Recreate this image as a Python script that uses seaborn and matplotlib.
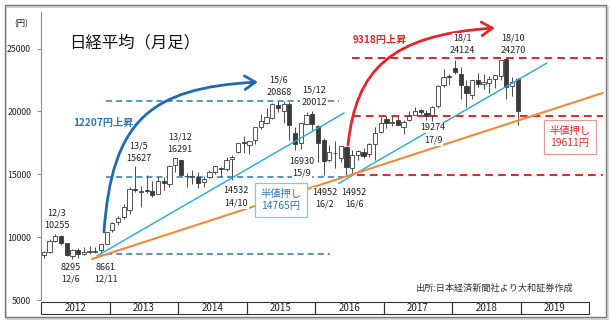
import numpy as np
import pandas as pd
import matplotlib
matplotlib.use("Agg")
import matplotlib.pyplot as plt
from matplotlib.patches import Rectangle, FancyArrowPatch
from matplotlib.path import Path
import seaborn as sns

# ---------------------------------------------------------------------------
# Nikkei 225 monthly candles, Jan 2012 - Dec 2018
# ---------------------------------------------------------------------------
years = [2012, 2013, 2014, 2015, 2016, 2017, 2018, 2019]

opens = [
    8549, 8795, 9707, 10110, 9549, 8520, 8999, 8697, 8790, 8824, 8946, 9451,
    10604, 11192, 11604, 12136, 13801, 13577, 13780, 13637, 13456, 14440, 14202, 15700,
    16148, 14900, 14800, 14800, 14400, 14800, 15200, 15500, 15400, 16200, 16800, 17600,
    17325, 17700, 18800, 19100, 19500, 20500, 20000, 20600, 18300, 17500, 19000, 19800,
    18818, 17700, 16100, 16700, 16300, 17200, 15500, 16500, 16800, 16600, 17400, 18400,
    19400, 19100, 19300, 18800, 19300, 19700, 20100, 19900, 19700, 20400, 22100, 22800,
    23450, 23000, 22000, 21300, 22500, 22200, 22300, 22600, 22800, 24200, 22000, 22574,
]
highs = [
    8929, 9866, 10255, 10190, 9559, 9064, 9136, 9222, 9288, 9180, 9460, 10433,
    11190, 11662, 12650, 13964, 15627, 14029, 14953, 14466, 14817, 14799, 15727, 16291,
    16164, 15095, 15312, 15164, 14830, 15376, 15660, 15600, 16374, 16533, 17520, 18030,
    17650, 18800, 19778, 20252, 20655, 20868, 20800, 20720, 18800, 19100, 19937, 20012,
    18951, 17905, 17291, 17613, 17251, 17240, 16938, 16943, 17100, 17500, 18800, 19592,
    19615, 19668, 19668, 19300, 19998, 20318, 20200, 20100, 20400, 22100, 23382, 23000,
    24124, 23500, 22500, 22500, 23050, 23000, 22800, 22900, 24120, 24270, 22700, 22698,
]
lows = [
    8349, 8765, 9650, 9388, 8501, 8295, 8365, 8595, 8674, 8700, 8661, 9433,
    10398, 10999, 11456, 11805, 13556, 12415, 13519, 13188, 13445, 13748, 14015, 15149,
    14844, 13995, 14203, 13885, 13964, 14738, 15000, 14753, 15300, 14532, 16720, 16672,
    16592, 17400, 18600, 19034, 19376, 19990, 19115, 17714, 16930, 17050, 18996, 18562,
    16017, 14952, 15999, 15471, 15975, 14952, 15095, 16100, 16300, 16400, 16111, 18300,
    18650, 18805, 18909, 18224, 19252, 19700, 19800, 19280, 19274, 20300, 21972, 22100,
    23000, 20950, 20347, 21000, 21931, 21800, 21500, 21851, 22500, 20971, 21200, 18948,
]
closes = [
    8802, 9723, 10083, 9520, 8542, 9006, 8695, 8839, 8870, 8928, 9446, 10395,
    11138, 11559, 12397, 13860, 13774, 13677, 13668, 13389, 14455, 14327, 15661, 16291,
    14915, 14841, 14828, 14304, 14632, 15162, 15621, 15425, 16173, 16414, 17460, 17451,
    17674, 18798, 19207, 19520, 20563, 20236, 20585, 18890, 17388, 19083, 19747, 19034,
    17518, 16026, 16759, 16666, 17234, 15575, 16569, 16887, 16449, 17425, 18308, 19114,
    19041, 19119, 18909, 19197, 19651, 20033, 19925, 19646, 20356, 22012, 22725, 22765,
    23098, 22068, 21454, 22468, 22202, 22305, 22554, 22865, 24120, 21920, 22351, 20014,
]

# Marked highs / lows (date label, price, label centre month, top-line level, kind)
note_dates = ["12/3", "12/6", "12/11", "13/5", "13/12", "14/10", "15/6",
              "15/9", "15/12", "16/2", "16/6", "17/9", "18/1", "18/10"]
note_prices = [10255, 8295, 8661, 15627, 16291, 14532, 20868,
               16930, 20012, 14952, 14952, 19274, 24124, 24270]
note_kind = ["top", "low", "low", "top", "top", "low", "top",
             "low", "top", "low", "low", "low", "top", "top"]
note_x = [2.8, 5.25, 11.38, 17.16, 24.34, 34.15, 41.68,
          45.71, 47.81, 49.74, 54.82, 68.65, 73.73, 82.66]
note_y = [11921, 7625, 7625, 17251, 17967, 13671, 22501,
          16057, 21706, 13591, 13591, 18683, 25842, 25842]

# Reference levels: 2012-2015 rally (blue) and 2016-2018 rally (red)
blue_levels = [20868, 14765, 8661]
blue_from = [11.4, 11.4, 11.4]
blue_to = [52.2, 53.8, 50.6]
red_levels = [24270, 19611, 14952]
red_from = [54.5, 54.6, 55.3]
red_to = [98.4, 98.4, 98.4]

# Trend lines (start / end month and price)
trend_names = ["support 2012-15", "support 2016-18", "long-term"]
trend_months = [[9.8, 53.1], [52.1, 88.6], [8.9, 98.4]]
trend_values = [[8500, 19880], [14270, 23850], [8260, 21470]]

rise_1 = 12207
rise_2 = 9318
half_1 = 14765
half_2 = 19611

# ---------------------------------------------------------------------------
sns.set_theme(style="white")
plt.rcParams["font.family"] = ["Noto Sans CJK JP", "DejaVu Sans"]

W, H = 610, 325
fig = plt.figure(figsize=(W / 100, H / 100), dpi=100)
fig.patch.set_facecolor("white")
ax = fig.add_axes([41 / W, 25 / H, (604 - 41) / W, (300 - 12) / H])
ax.set_facecolor("white")
ax.set_xlim(0, 98.6)
ax.set_ylim(5000, 27910)

BLUE = "#2f74b5"
BLUE_ARROW = "#1f6ab0"
CYAN = "#22a8dc"
ORANGE = "#f08a3a"
RED = "#e3262a"

# --- candles
o = np.array(opens, float)
c = np.array(closes, float)
hi = np.array(highs, float)
lo = np.array(lows, float)
m = np.arange(len(c)) + 0.5
up = c >= o
body_lo = np.minimum(o, c)
body_h = np.maximum(np.abs(c - o), 45)
ax.vlines(m, lo, hi, color="#4a4a4a", lw=0.7, zorder=2)
ax.bar(m, body_h, bottom=body_lo, width=0.74,
       color=np.where(up, "white", "#3a3a3a"), edgecolor="#3a3a3a",
       linewidth=0.6, zorder=3)

# --- horizontal reference levels
ax.hlines(blue_levels, blue_from, blue_to, colors=BLUE, lw=1.1,
          linestyles=(0, (4, 2.6)), zorder=1.5)
ax.hlines(red_levels, red_from, red_to, colors=RED, lw=1.4,
          linestyles=(0, (4, 2.6)), zorder=1.5)

# --- trend lines
trend_df = pd.DataFrame({
    "month": [v for pair in trend_months for v in pair],
    "value": [v for pair in trend_values for v in pair],
    "line": [n for n in trend_names for _ in range(2)],
})
trend_style = {"support 2012-15": (CYAN, 1.0), "support 2016-18": (CYAN, 1.0),
               "long-term": (ORANGE, 1.5)}
for name, grp in trend_df.groupby("line", sort=False):
    col, lw = trend_style[name]
    sns.lineplot(data=grp, x="month", y="value", color=col, lw=lw,
                 ax=ax, legend=False, sort=False, zorder=4)

# --- curved rally arrows
def rally_arrow(pts, color):
    path = Path(pts, [Path.MOVETO, Path.CURVE4, Path.CURVE4, Path.CURVE4])
    arr = FancyArrowPatch(path=path, arrowstyle="->,head_length=0.55,head_width=0.35",
                          mutation_scale=14, color=color, lw=2.0, zorder=6,
                          capstyle="round")
    ax.add_patch(arr)

rally_arrow([(11.03, 10410), (12.43, 19320), (19.09, 21866), (38.0, 22343)], BLUE_ARROW)
rally_arrow([(53.77, 17331), (55.17, 23298), (61.12, 26082), (79.5, 26639)], RED)

ax.text(10.86, 19080, f"{rise_1}円上昇", color=BLUE, fontsize=7.3,
        fontweight="bold", ha="center", va="center", zorder=7)
ax.text(59.37, 25683, f"{rise_2}円上昇", color=RED, fontsize=7.3,
        fontweight="bold", ha="center", va="center", zorder=7)

# --- high / low labels
gap = 994
for d, p, k, x, y in zip(note_dates, note_prices, note_kind, note_x, note_y):
    first, second = (d, str(p)) if k == "top" else (str(p), d)
    for txt, yy in ((first, y), (second, y - gap)):
        ax.text(x, yy, txt, fontsize=6.5, color="#222222", ha="center",
                va="center", zorder=8,
                bbox=dict(facecolor="white", edgecolor="none", pad=0.6))

# --- half-retracement boxes
ax.text(42.03, 12955, f"半値押し\n{half_1}円", color=BLUE, fontsize=7.4,
        ha="center", va="center", linespacing=1.25, zorder=9,
        bbox=dict(boxstyle="square,pad=0.55", facecolor="white",
                  edgecolor="#8cc2e6", lw=0.9))
ax.text(92.64, 17967, f"半値押し\n{half_2}円", color=RED, fontsize=7.4,
        ha="center", va="center", linespacing=1.25, zorder=9,
        bbox=dict(boxstyle="square,pad=0.55", facecolor="white",
                  edgecolor="#e39a9a", lw=0.9))

ax.text(79.5, 5955, "出所:日本経済新聞社より大和証券作成", fontsize=6.6,
        color="#333333", ha="center", va="center", zorder=9)

# --- axes styling
for side in ("top", "right", "bottom"):
    ax.spines[side].set_visible(False)
ax.spines["left"].set_color("#8a8a8a")
ax.spines["left"].set_linewidth(0.8)
ax.set_xticks([])
ax.set_yticks([5000, 10000, 15000, 20000, 25000])
ax.tick_params(axis="y", left=True, direction="out", length=3, width=0.7,
               color="#8a8a8a", labelsize=6.3, pad=4.2, labelcolor="#222222")
ax.set_xlabel("")
ax.set_ylabel("")

# --- year boxes under the plot
xt = ax.get_xaxis_transform()
for i, yr in enumerate(years):
    ax.add_patch(Rectangle((12 * i, -0.0486), 12, 0.0427, transform=xt,
                           fill=False, edgecolor="#333333", lw=0.8,
                           clip_on=False))
    ax.text(12 * i + 6, -0.0275, str(yr), transform=xt, fontsize=7.0,
            ha="center", va="center", color="#222222", clip_on=False)

# --- titles and frame
fig.text(69 / W, 1 - 43 / H, "日経平均（月足）", fontsize=11.8,
         ha="left", va="center", color="#111111")
fig.text(21.5 / W, 1 - 24 / H, "(円)", fontsize=6.0, ha="center",
         va="center", color="#222222")

fig.patches.append(Rectangle((6 / W, 6.5 / H), 601.5 / W, 312 / H,
                             transform=fig.transFigure, fill=False,
                             edgecolor="#cfcfcf", lw=1.2, zorder=0))
fig.patches.append(Rectangle((4.5 / W, 8 / H), 601.5 / W, 312 / H,
                             transform=fig.transFigure, fill=False,
                             edgecolor="#7a7a7a", lw=1.0, zorder=1))

fig.savefig("out.png", dpi=100, facecolor="white")
